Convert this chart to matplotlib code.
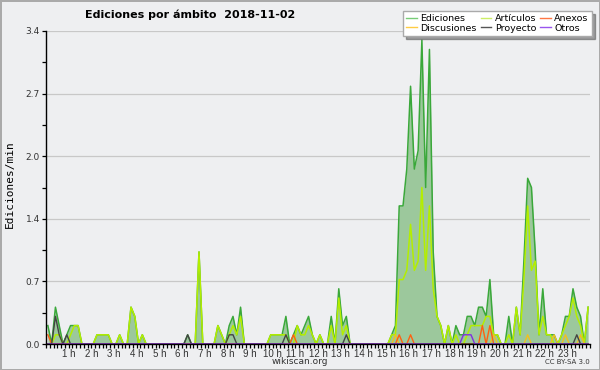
import numpy as np
import matplotlib
matplotlib.use("Agg")
import matplotlib.pyplot as plt
from matplotlib.lines import Line2D

# edits per minute, one value per 10-minute slot (00:00 ... 23:50)
ediciones = [
    0.2, 0.0, 0.4, 0.2, 0.0, 0.1, 0.2, 0.2, 0.2, 0.0, 0.0, 0.0,
    0.0, 0.1, 0.1, 0.1, 0.1, 0.0, 0.0, 0.1, 0.0, 0.0, 0.4, 0.3,
    0.0, 0.1, 0.0, 0.0, 0.0, 0.0, 0.0, 0.0, 0.0, 0.0, 0.0, 0.0,
    0.0, 0.1, 0.0, 0.0, 1.0, 0.0, 0.0, 0.0, 0.0, 0.2, 0.1, 0.0,
    0.2, 0.3, 0.1, 0.4, 0.0, 0.0, 0.0, 0.0, 0.0, 0.0, 0.0, 0.1,
    0.1, 0.1, 0.1, 0.3, 0.0, 0.1, 0.2, 0.1, 0.2, 0.3, 0.1, 0.0,
    0.1, 0.0, 0.0, 0.3, 0.0, 0.6, 0.2, 0.3, 0.0, 0.0, 0.0, 0.0,
    0.0, 0.0, 0.0, 0.0, 0.0, 0.0, 0.0, 0.1, 0.2, 1.5, 1.5, 1.9,
    2.8, 1.9, 2.1, 3.3, 1.7, 3.2, 1.0, 0.3, 0.2, 0.0, 0.2, 0.0,
    0.2, 0.1, 0.1, 0.3, 0.3, 0.2, 0.4, 0.4, 0.3, 0.7, 0.1, 0.1,
    0.0, 0.0, 0.3, 0.0, 0.4, 0.1, 0.9, 1.8, 1.7, 1.0, 0.1, 0.6,
    0.1, 0.1, 0.1, 0.0, 0.1, 0.3, 0.3, 0.6, 0.4, 0.3, 0.0, 0.4,
]
articulos = [
    0.0, 0.0, 0.1, 0.1, 0.0, 0.0, 0.1, 0.2, 0.2, 0.0, 0.0, 0.0,
    0.0, 0.1, 0.1, 0.1, 0.1, 0.0, 0.0, 0.1, 0.0, 0.0, 0.4, 0.3,
    0.0, 0.1, 0.0, 0.0, 0.0, 0.0, 0.0, 0.0, 0.0, 0.0, 0.0, 0.0,
    0.0, 0.0, 0.0, 0.0, 1.0, 0.0, 0.0, 0.0, 0.0, 0.2, 0.1, 0.0,
    0.1, 0.2, 0.1, 0.3, 0.0, 0.0, 0.0, 0.0, 0.0, 0.0, 0.0, 0.1,
    0.1, 0.1, 0.1, 0.1, 0.0, 0.0, 0.2, 0.1, 0.1, 0.2, 0.1, 0.0,
    0.1, 0.0, 0.0, 0.2, 0.0, 0.5, 0.1, 0.2, 0.0, 0.0, 0.0, 0.0,
    0.0, 0.0, 0.0, 0.0, 0.0, 0.0, 0.0, 0.1, 0.1, 0.7, 0.7, 0.8,
    1.3, 0.8, 0.9, 1.7, 0.8, 1.5, 0.6, 0.3, 0.2, 0.0, 0.2, 0.0,
    0.1, 0.0, 0.0, 0.1, 0.2, 0.2, 0.2, 0.2, 0.3, 0.3, 0.1, 0.1,
    0.0, 0.0, 0.1, 0.0, 0.4, 0.1, 0.7, 1.5, 0.8, 0.9, 0.1, 0.3,
    0.1, 0.1, 0.0, 0.0, 0.1, 0.2, 0.3, 0.5, 0.3, 0.2, 0.0, 0.4,
]
# sparse series: slot start time -> edits per minute
discusiones = {"15:20": 0.1, "19:40": 0.1, "21:10": 0.1, "22:20": 0.1,
               "22:50": 0.1, "23:30": 0.1}
anexos = {"00:00": 0.1, "10:50": 0.1, "15:30": 0.1, "16:00": 0.1,
          "19:10": 0.2, "19:30": 0.2}
proyecto = {"00:20": 0.3, "00:30": 0.1, "00:50": 0.1, "06:10": 0.1,
            "08:00": 0.1, "08:10": 0.1, "10:30": 0.1, "13:10": 0.1,
            "23:20": 0.1}
otros = {"18:20": 0.1, "18:30": 0.1, "18:40": 0.1}

hour_labels = [f"{h} h" for h in range(1, 24)]


def expand(slots):
    out = np.zeros(144)
    for hm, v in slots.items():
        h, m = map(int, hm.split(":"))
        out[h * 6 + m // 10] = v
    return out


bg = "#eeeff1"
t = (np.arange(144) + 0.5) / 6.0

fig = plt.figure(figsize=(6, 3.7), dpi=100, facecolor=bg,
                 edgecolor="#aaaaaa", linewidth=2)
ax = fig.add_axes([46 / 600, 26 / 370, 544 / 600, 313 / 370])
ax.set_facecolor(bg)

ax.fill_between(t, ediciones, color="#9cc89c", lw=0, zorder=2)
ax.plot(t, ediciones, color="#3aa83a", lw=1.1, zorder=3)
ax.plot(t, articulos, color="#b4ee00", lw=1.1, zorder=4)
ax.plot(t, expand(discusiones), color="#f0c020", lw=1.0, zorder=5)
ax.plot(t, expand(anexos), color="#ff6010", lw=1.0, zorder=5)
ax.plot(t, expand(proyecto), color="#444444", lw=1.0, zorder=5)
ax.plot(t, expand(otros), color="#8030e0", lw=1.0, zorder=5)

ax.set_xlim(0, 24)
ax.set_ylim(0, 3.4)

yt = np.linspace(0, 3.4, 6)
ax.set_yticks(yt)
ax.set_yticklabels([f"{v:.1f}" for v in yt])
ax.set_yticks((yt[:-1] + yt[1:]) / 2, minor=True)
ax.set_xticks(range(1, 24))
ax.set_xticklabels(hour_labels, family="Liberation Sans")
ax.set_xticks(np.arange(0, 145) / 6, minor=True)

ax.tick_params(axis="both", which="both", direction="out", length=2.8,
               width=0.9, colors="black", labelcolor="#333333")
ax.tick_params(axis="x", labelsize=7, pad=0.5)
ax.tick_params(axis="y", labelsize=6.5, pad=1.5)

ax.yaxis.grid(True, color="#c8c8c8", lw=0.9)
ax.set_axisbelow(True)
for s in ["top", "right"]:
    ax.spines[s].set_visible(False)
for s in ["left", "bottom"]:
    ax.spines[s].set_linewidth(1.0)
    ax.spines[s].set_zorder(6)

fig.text(85 / 600, 1 - 15 / 370, "Ediciones por ámbito  2018-11-02",
         fontsize=8, fontweight="bold", va="center", ha="left")
fig.text(10 / 600, 1 - 184 / 370, "Ediciones/min", rotation=90,
         family="DejaVu Sans Mono", fontsize=8, va="center", ha="center")
fig.text(300 / 600, 1 - 362 / 370, "wikiscan.org", fontsize=6.5,
         color="#333333", va="center", ha="center")
fig.text(590 / 600, 1 - 362 / 370, "CC BY-SA 3.0", fontsize=5,
         color="#333333", va="center", ha="right")

handles = [
    Line2D([], [], color="#77cc77", lw=1),
    Line2D([], [], color="#ffcc44", lw=1),
    Line2D([], [], color="#ccee66", lw=1),
    Line2D([], [], color="#555555", lw=1),
    Line2D([], [], color="#ff7744", lw=1),
    Line2D([], [], color="#9955ee", lw=1),
]
labels = ["Ediciones", "Discusiones", "Artículos", "Proyecto", "Anexos", "Otros"]
leg = fig.legend(handles, labels, ncol=3, loc="upper right",
                 bbox_to_anchor=(592 / 600, 1 - 11 / 370), fontsize=6.8,
                 frameon=True, fancybox=False, shadow=True,
                 handlelength=1.1, handletextpad=0.4, columnspacing=0.4,
                 labelspacing=0.05, borderpad=0.35, borderaxespad=0)
leg.get_frame().set_edgecolor("#aaaaaa")
leg.get_frame().set_linewidth(1.0)

fig.savefig("out.png", dpi=100, facecolor=bg, edgecolor="#aaaaaa")
